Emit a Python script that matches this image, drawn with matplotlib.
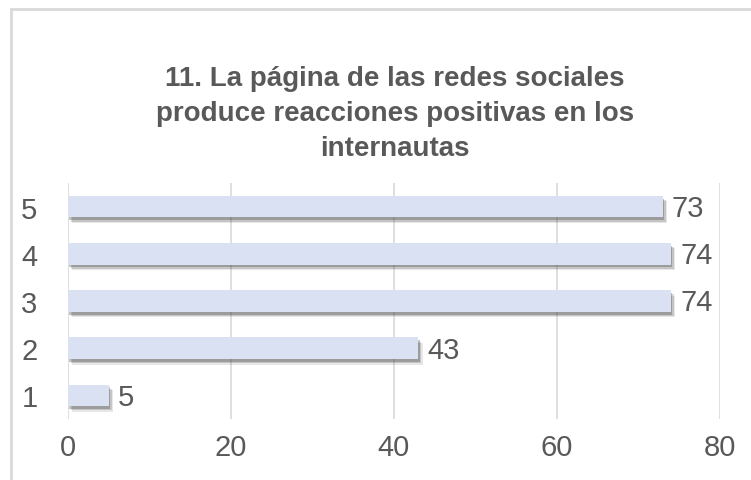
import matplotlib
matplotlib.use("Agg")
import matplotlib.pyplot as plt
from matplotlib import font_manager as fm
from matplotlib.patches import Rectangle
import matplotlib.patheffects as pe

categories = ["1", "2", "3", "4", "5"]
values = [5, 43, 74, 74, 73]
xticks = [0, 20, 40, 60, 80]
title = "11. La página de las redes sociales\nproduce reacciones positivas en los\ninternautas"

names = {f.name for f in fm.fontManager.ttflist}
narrow = "Liberation Sans Narrow" if "Liberation Sans Narrow" in names else "Liberation Sans"

W, H = 751, 481
fig = plt.figure(figsize=(W / 100, H / 100), dpi=100)
ax = fig.add_axes([68 / W, 1 - 420 / H, (720 - 68) / W, (420 - 184) / H])

txt = "#595959"
ypos = list(range(1, len(categories) + 1))
bars = ax.barh(ypos, values, height=0.46, color="#D9E1F2", zorder=3)
for b in bars:
    b.set_path_effects([
        pe.SimplePatchShadow(offset=(3, -4), shadow_rgbFace="#404040", alpha=0.12),
        pe.SimplePatchShadow(offset=(2, -3), shadow_rgbFace="#404040", alpha=0.2),
        pe.SimplePatchShadow(offset=(1, -2), shadow_rgbFace="#404040", alpha=0.3),
        pe.Normal()])

for y, v in zip(ypos, values):
    ax.text(v + 1.1, y - 0.03, str(v), va="center", ha="left", fontsize=21, color=txt, family=narrow)

ax.set_xlim(0, 80)
ax.set_ylim(0.5, 5.5)
ax.set_xticks(xticks)
ax.set_xticklabels([str(t) for t in xticks], fontsize=21, color=txt, family=narrow)
ax.set_yticks(ypos)
ax.set_yticklabels(categories, fontsize=21, color=txt, family=narrow)
ax.tick_params(axis="both", length=0)
ax.tick_params(axis="x", pad=10)
ax.tick_params(axis="y", pad=22)
ax.grid(axis="x", color="#D9D9D9", linewidth=1.2, zorder=0)
for s in ax.spines.values():
    s.set_visible(False)

fig.text(395 / W, 1 - 114 / H, title, ha="center", va="center", fontsize=20, fontweight="bold",
         color=txt, family="Liberation Sans", linespacing=1.45)

fig.patches.append(Rectangle((10.5 / W, -0.1), 1.2, 1 - 9.5 / H + 0.1, transform=fig.transFigure,
                             fill=False, edgecolor="#D9D9D9", linewidth=2))

fig.savefig("out.png", dpi=100)
